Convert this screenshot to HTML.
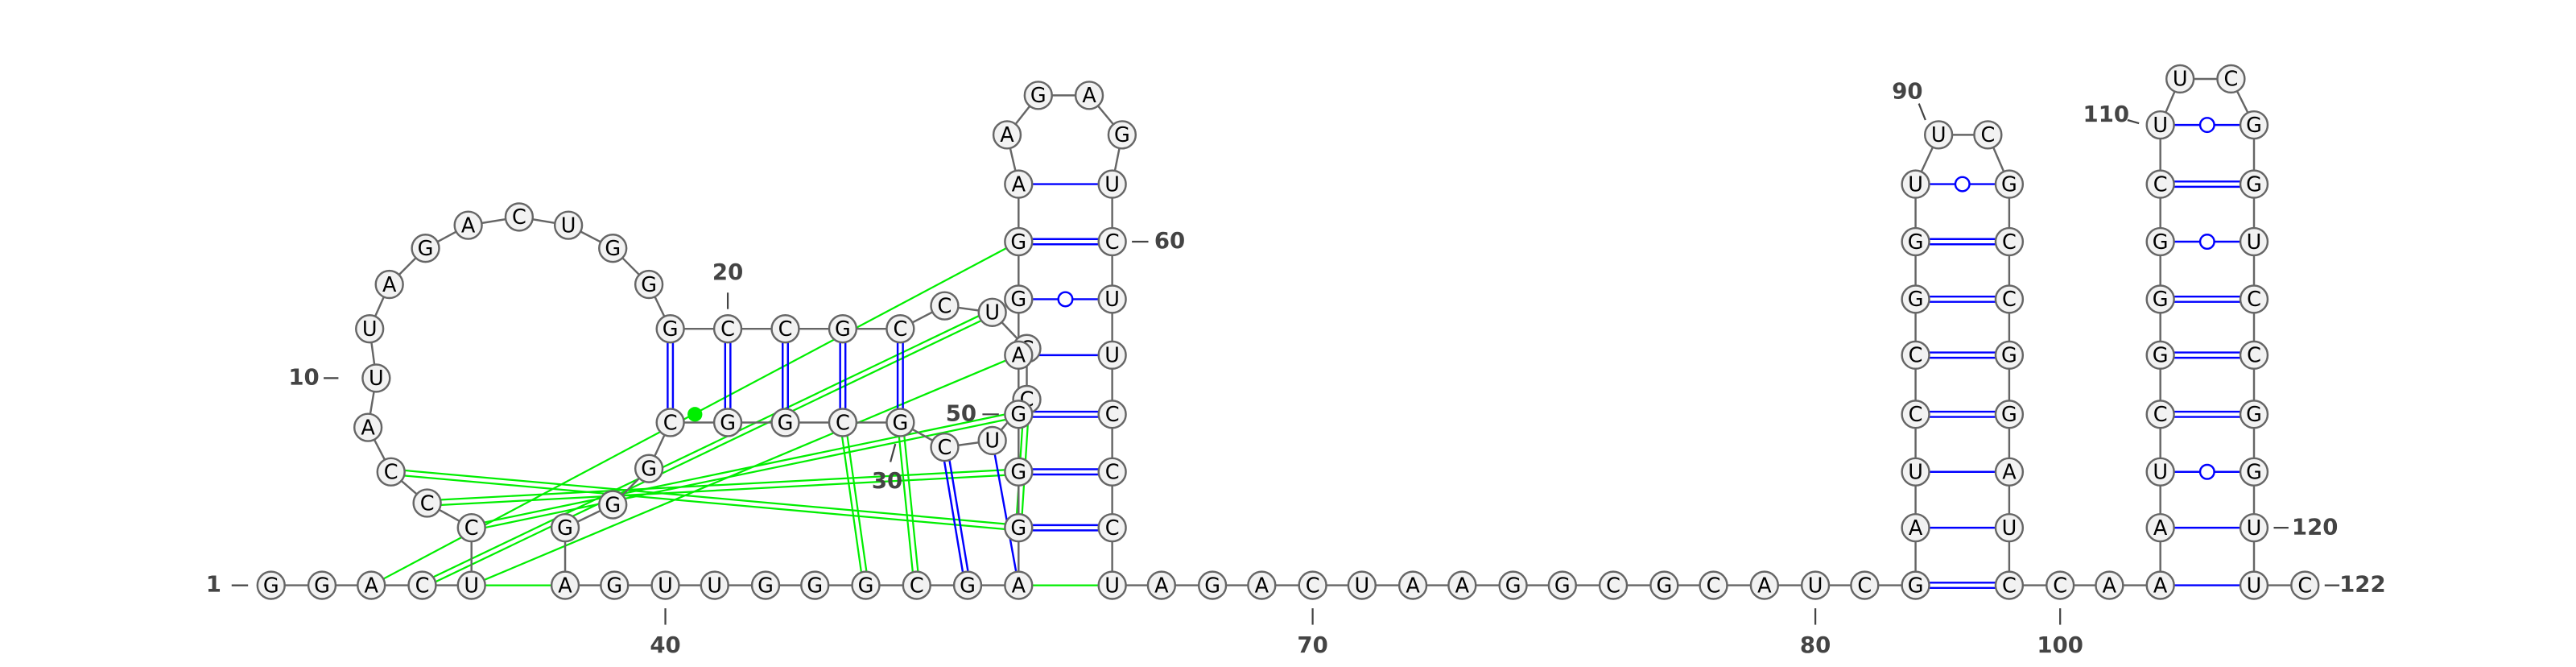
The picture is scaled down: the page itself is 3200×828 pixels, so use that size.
<!DOCTYPE html>
<html><head><meta charset="utf-8"><style>
html,body{margin:0;padding:0;background:#fff;}
svg{display:block;}
</style></head><body>
<svg id="rna" xmlns="http://www.w3.org/2000/svg" width="3200" height="828" viewBox="0 0 1568 405.7" preserveAspectRatio="none">
<g id="g-green"></g>
<g id="g-back"></g>
<g id="g-blue"></g>
<g id="g-nt"></g>
<g id="g-lab"></g>
</svg>
<script>
const seq = "GGACUCCCAU"+"UAGACUGGGC"+"CGCCUCCUCG"+"CGGCGGGAGU"+"UGGGCGAGGG"+"AGGAAGAGUC"+"UUCCCUAGAC"+"UAAGGCGCAU"+"CGAUCCGGUU"+"CGCCGGAUCC"+"AAAUCGGGCU"+"UCGGUCCGGU"+"UC";
const nx = [165,196,226,257,287,287,260,238,224,229,
 225,237,259,285,316,346,373,395,408,443,
 478,513,548,575,604,625,625,604,575,548,
 513,478,443,408,395,373,344,344,374,405,
 435,466,496,527,558,589,620,620,620,620,
 620,620,620,620,613,632,663,683,677,677,
 677,677,677,677,677,677,707,738,768,799,
 829,860,890,921,951,982,1013,1043,1074,1105,
 1135,1166,1166,1166,1166,1166,1166,1166,1166,1180,
 1210,1223,1223,1223,1223,1223,1223,1223,1223,1254,
 1284,1315,1315,1315,1315,1315,1315,1315,1315,1315,
 1327,1358,1372,1372,1372,1372,1372,1372,1372,1372,
 1372,1403];
const ny = [356,356,356,356,356,321,306,287,260,230,
 200,173,151,137,132,137,151,173,200,200,
 200,200,200,186,190,212,243,268,272,257,
 257,257,257,257,285,307,321,356,356,356,
 356,356,356,356,356,356,356,321,287,252,
 216,182,147,112,82,58,58,82,112,147,
 182,216,252,287,321,356,356,356,356,356,
 356,356,356,356,356,356,356,356,356,356,
 356,356,321,287,252,216,182,147,112,82,
 82,112,147,182,216,252,287,321,356,356,
 356,356,321,287,252,216,182,147,112,76,
 48,48,76,112,147,182,216,252,287,321,
 356,356];
// pairs: [i, j, type] type: 2=double,1=single,0=wobble
const pairs = [[19,34,2],[20,33,2],[21,32,2],[22,31,2],[23,30,2],[29,46,2],[28,47,1],
 [48,65,2],[49,64,2],[50,63,2],[51,62,1],[52,61,0],[53,60,2],[54,59,1],
 [82,99,2],[83,98,1],[84,97,1],[85,96,2],[86,95,2],[87,94,2],[88,93,2],[89,92,0],
 [102,121,1],[103,120,1],[104,119,0],[105,118,2],[106,117,2],[107,116,2],[108,115,0],[109,114,2],[110,113,0]];
const tert = [[3,53,1],[4,25,2],[5,51,1],[5,38,1],[6,50,2],[7,49,2],[8,48,2],[27,48,2],[31,44,2],[30,45,2],[47,66,1]];
const labelNums = [1,10,20,30,40,50,60,70,80,90,100,110,120,122];
const NS="http://www.w3.org/2000/svg";
function mk(t,a,p){const e=document.createElementNS(NS,t);for(const k in a)e.setAttribute(k,a[k]);p.appendChild(e);return e;}
const gG=document.getElementById('g-green'),gB=document.getElementById('g-back'),gP=document.getElementById('g-blue'),gN=document.getElementById('g-nt'),gL=document.getElementById('g-lab');
const X=i=>nx[i-1],Y=i=>ny[i-1];
function seg(p,i,j,col,type,w){
  const x1=X(i),y1=Y(i),x2=X(j),y2=Y(j);const dx=x2-x1,dy=y2-y1,L=Math.hypot(dx,dy);
  const ux=dx/L,uy=dy/L,px=-uy,py=ux,r=8.5;
  const a=[x1+ux*r,y1+uy*r],b=[x2-ux*r,y2-uy*r];
  if(type===2){for(const s of [-1.6,1.6]){const l=mk('line',{x1:a[0]+px*s,y1:a[1]+py*s,x2:b[0]+px*s,y2:b[1]+py*s,stroke:col,'stroke-width':w},p);
    
    }}
  else{const l=mk('line',{x1:a[0],y1:a[1],x2:b[0],y2:b[1],stroke:col,'stroke-width':w},p);
    
    
    if(type===0){const c=mk('circle',{cx:(x1+x2)/2,cy:(y1+y2)/2,r:4.3,fill:'#fff',stroke:col,'stroke-width':1.2},p);
      
      }}
}
tert.forEach(t=>seg(gG,t[0],t[1],'#00ee00',t[2],1.1));
const dot=mk('circle',{cx:423,cy:252,r:4.5,fill:'#00ee00'},gG);


for(let i=1;i<seq.length;i++){
  const l=mk('line',{x1:X(i),y1:Y(i),x2:X(i+1),y2:Y(i+1),stroke:'#666','stroke-width':1.2},gB);
  
  
}
pairs.forEach(p=>seg(gP,p[0],p[1],'#0000ff',p[2],1.2));
const order=[];for(let i=1;i<=seq.length;i++)order.push(i);
order.sort((a,b)=>((a===26||a===27)?-1:0)-((b===26||b===27)?-1:0));
order.forEach(i=>{
  const g=mk('g',{},gN);
  
  
  mk('circle',{cx:X(i),cy:Y(i),r:8.3,fill:'#f2f2f2',stroke:'#666','stroke-width':1.2},g);
  const t=mk('text',{x:X(i),y:Y(i)+4.3,'text-anchor':'middle','font-size':12.5,'font-family':'DejaVu Sans, Liberation Sans, sans-serif',fill:'#000'},g);
  t.textContent=seq[i-1];
});
const labs={1:[141,356,151,356,130,360,'middle'],10:[197,230,206,230,185,234,'middle'],20:[443,178,443,188,443,170,'middle'],
 30:[545,270,542,281,540,297,'middle'],40:[405,370,405,380,405,397,'middle'],50:[598,252,608,252,585,256,'middle'],
 60:[689,147,699,147,712,151,'middle'],70:[799,370,799,380,799,397,'middle'],80:[1105,370,1105,380,1105,397,'middle'],
 90:[1168,63,1172,73,1161,60,'middle'],100:[1254,370,1254,380,1254,397,'middle'],110:[1295,73,1302,75,1282,74,'middle'],
 120:[1384,321,1393,321,1395,325,'start'],122:[1415,356,1424,356,1424,360,'start']};
labelNums.forEach(n=>{const a=labs[n];
  const g=mk('g',{},gL);
  
  
  mk('line',{x1:a[0],y1:a[1],x2:a[2],y2:a[3],stroke:'#444','stroke-width':1.1},g);
  const t=mk('text',{x:a[4],y:a[5],'text-anchor':a[6],'font-size':13.5,'font-weight':'bold','font-family':'DejaVu Sans, Liberation Sans, sans-serif',fill:'#444'},g);
  t.textContent=String(n);
});
</script>
</body></html>
